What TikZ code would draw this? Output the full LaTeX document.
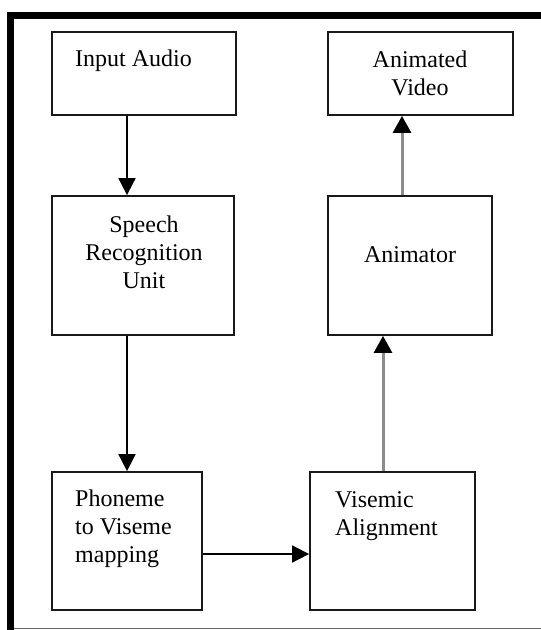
\documentclass[tikz,border=0pt]{standalone}
\usepackage{fontspec}
\setmainfont{Liberation Serif}
\usetikzlibrary{arrows.meta}
\begin{document}
\begin{tikzpicture}[x=1pt,y=-1pt,
  stagebox/.style={draw=black!90, line width=1.8pt, rectangle, inner sep=0pt},
  label/.style={inner sep=0pt, font=\fontsize{24}{28}\selectfont},
  blackarrow/.style={line width=1.8pt, black, -{Triangle[length=17pt,width=17pt]}},
  grayarrow/.style={line width=3pt, black!45, -{Triangle[length=17pt,width=18pt,color=black,fill=black]}}]
\useasboundingbox (0,0) rectangle (541,630);
% outer frame (open at the right)
\fill[black] (7,12) rectangle (541,19);
\fill[black] (7,12) rectangle (14,630);
\draw[black!60, line width=1pt] (14,628.5) -- (541,628.5);
% stage boxes
\node[stagebox, minimum width=184pt, minimum height=83pt] (ia) at (144,73.5) {};
\node[stagebox, minimum width=185pt, minimum height=83pt] (av) at (420.5,73.5) {};
\node[stagebox, minimum width=182pt, minimum height=139pt] (sr) at (143,265.5) {};
\node[stagebox, minimum width=164pt, minimum height=139pt] (an) at (410,265.5) {};
\node[stagebox, minimum width=150pt, minimum height=138pt] (pv) at (127,541) {};
\node[stagebox, minimum width=165pt, minimum height=138pt] (va) at (392.5,541) {};
% box texts (multi-line nodes are anchored on their last baseline)
\node[label, anchor=base west] (tia) at (75,66) {Input Audio};
\node[label, anchor=base, align=center] (tav) at (420,95) {Animated\\Video};
\node[label, anchor=base, align=center] (tsr) at (144,288) {Speech\\Recognition\\Unit};
\node[label, anchor=base] (tan) at (410,262) {Animator};
\node[label, anchor=base west, align=left] (tpv) at (75,562) {Phoneme\\to Viseme\\mapping};
\node[label, anchor=base west, align=left] (tva) at (335,535) {Visemic\\Alignment};
% connectors
\draw[blackarrow] ([xshift=-17pt]ia.south) -- ([xshift=-17pt]ia.south |- sr.north);
\draw[blackarrow] (sr.south -| pv.north) -- (pv.north);
\draw[blackarrow] ([yshift=-13pt]pv.east) -- ([yshift=-13pt]pv.east -| va.west);
\draw[grayarrow] ([xshift=-9.5pt]va.north) -- ([xshift=-9.5pt]va.north |- an.south);
\draw[grayarrow] ([xshift=-8pt]an.north) -- ([xshift=-8pt]an.north |- av.south);
\end{tikzpicture}
\end{document}
